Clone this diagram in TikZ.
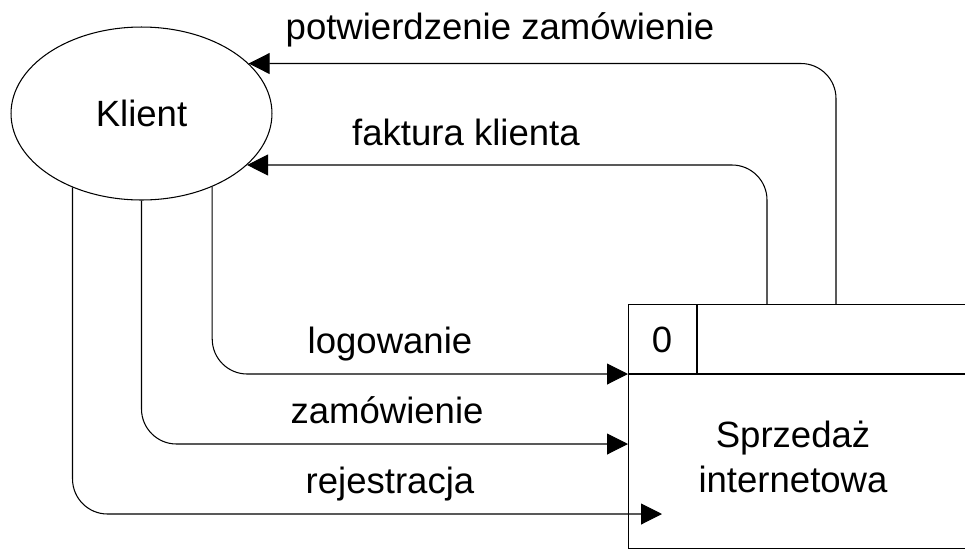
\documentclass[tikz,border=0pt]{standalone}
\usepackage{fontspec}
\setmainfont{Liberation Sans}
\usetikzlibrary{arrows.meta,shapes,positioning,calc}

\tikzset{
    ent/.style={draw, ellipse, line width=0.6pt, minimum width=5.22cm, minimum height=3.46cm, inner sep=0pt},
    procbox/.style={draw, rectangle, line width=0.6pt, anchor=north west, minimum width=7.6cm, minimum height=4.88cm},
    flow/.style={line width=0.6pt, rounded corners=0.7cm, -{Triangle[length=0.42cm, width=0.42cm]}},
    lbl/.style={anchor=base, inner sep=0pt}
}

\begin{document}
\begin{tikzpicture}[x=0.02cm, y=-0.02cm, font=\fontsize{20.8}{25.6}\selectfont]
    \useasboundingbox (0,0) rectangle (965,549);
    \clip (0,0) rectangle (965,549);

    % Klient
    \node[ent] (klient) at (141.5,113.5) {Klient};

    % Sprzedaz internetowa
    \node[procbox] (sprz) at (628,304) {};
    \draw[line width=0.6pt] (628,374) -- (1010,374);
    \draw[line width=0.6pt] (697,304) -- (697,374);
    \node (nr) at (662,340) {0};
    \node[align=center] (nazwa) at (793,457) {Sprzedaż\\internetowa};

    % end points on the box
    \coordinate (logIn) at (628,374);
    \coordinate (zamIn) at (628,444);
    \coordinate (rejIn) at (662,514);
    \coordinate (fakOut) at (767,304);
    \coordinate (potOut) at (836,304);

    % flows from Klient
    \draw[flow] (klient.-46.5) |- (logIn);
    \draw[flow] (klient.south) |- (zamIn);
    \draw[flow] (klient.-133.5) |- (rejIn);

    % flows to Klient
    \draw[flow] (fakOut) |- (klient.-26.8);
    \draw[flow] (potOut) |- (klient.25.8);

    % labels
    \node[lbl] (potLbl) at (500,39) {potwierdzenie zamówienie};
    \node[lbl] (fakLbl) at (466,145) {faktura klienta};
    \node[lbl] (logLbl) at (390,353) {logowanie};
    \node[lbl] (zamLbl) at (387,423) {zamówienie};
    \node[lbl] (rejLbl) at (390,493) {rejestracja};
\end{tikzpicture}
\end{document}
